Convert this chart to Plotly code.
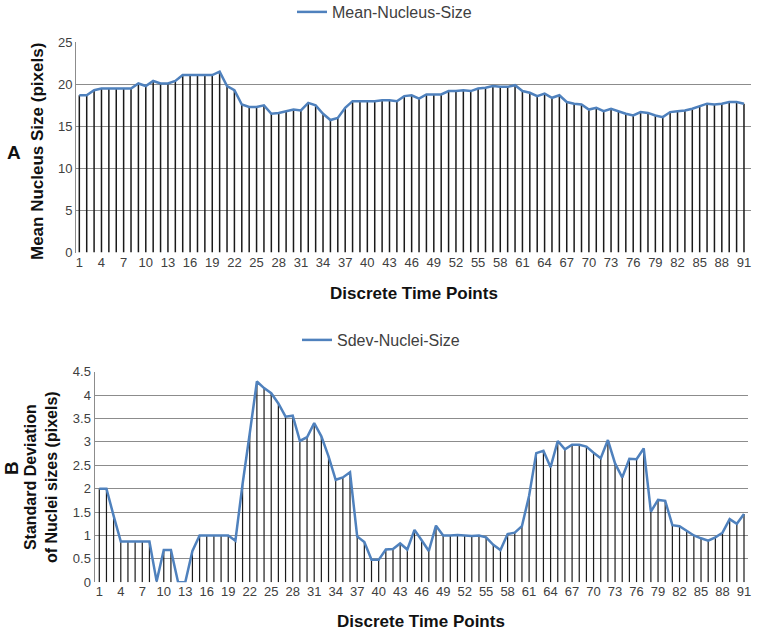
import plotly.graph_objects as go

time_points = list(range(1, 92))

mean_nucleus_size = [
    18.7, 18.7, 19.3, 19.5, 19.5, 19.5, 19.5, 19.5, 20.1, 19.8,
    20.4, 20.1, 20.1, 20.4, 21.1, 21.1, 21.1, 21.1, 21.1, 21.5,
    19.8, 19.3, 17.6, 17.3, 17.3, 17.5, 16.5, 16.6, 16.8, 17.0,
    16.9, 17.8, 17.5, 16.5, 15.75, 16.0, 17.2, 18.0, 18.0, 18.0,
    18.0, 18.1, 18.1, 18.0, 18.6, 18.7, 18.3, 18.8, 18.8, 18.8,
    19.2, 19.2, 19.3, 19.2, 19.5, 19.6, 19.8, 19.7, 19.7, 19.9,
    19.2, 19.0, 18.6, 18.9, 18.4, 18.7, 17.9, 17.7, 17.6, 17.0,
    17.2, 16.8, 17.1, 16.8, 16.5, 16.3, 16.7, 16.6, 16.3, 16.1,
    16.7, 16.8, 16.9, 17.1, 17.4, 17.7, 17.6, 17.7, 17.9, 17.9,
    17.7,
]

sdev_nuclei_size = [
    2.0, 2.0, 1.42, 0.87, 0.87, 0.87, 0.87, 0.87, 0.02, 0.69,
    0.69, 0.0, 0.0, 0.67, 1.0, 1.0, 1.0, 1.0, 1.0, 0.89,
    2.1, 3.18, 4.29, 4.15, 4.04, 3.82, 3.54, 3.56, 3.02, 3.1,
    3.4, 3.12, 2.69, 2.19, 2.24, 2.35, 0.98, 0.86, 0.48, 0.48,
    0.7, 0.71, 0.83, 0.7, 1.12, 0.9, 0.67, 1.21, 1.0, 1.0,
    1.01, 1.0, 0.99, 1.0, 0.96, 0.8, 0.69, 1.03, 1.06, 1.2,
    1.85, 2.76, 2.81, 2.46, 3.02, 2.84, 2.94, 2.94, 2.9, 2.77,
    2.65, 3.04, 2.54, 2.24, 2.64, 2.63, 2.86, 1.51, 1.76, 1.74,
    1.22, 1.2, 1.1, 1.0, 0.94, 0.89, 0.96, 1.06, 1.35, 1.25,
    1.46,
]

x_tick_labels = [str(v) for v in range(1, 92, 3)]
top_y_ticks = [0, 5, 10, 15, 20, 25]
bottom_y_ticks = [0, 0.5, 1, 1.5, 2, 2.5, 3, 3.5, 4, 4.5]

W, H = 758, 631
FONT = "Liberation Sans, Arial, sans-serif"
BLUE = "#4f81bd"
GRID = "#8c8c8c"
TICKC = "#404040"


def drop_lines(xs, ys):
    dx, dy = [], []
    for x, y in zip(xs, ys):
        dx += [x, x, None]
        dy += [0, y, None]
    return dx, dy


fig = go.Figure()

# Top panel
dx, dy = drop_lines(time_points, mean_nucleus_size)
fig.add_trace(go.Scatter(x=dx, y=dy, mode="lines", line=dict(color="#1a1a1a", width=1.5),
                         showlegend=False, hoverinfo="skip", xaxis="x", yaxis="y"))
fig.add_trace(go.Scatter(x=time_points, y=mean_nucleus_size, mode="lines",
                         line=dict(color=BLUE, width=2.5), name="Mean-Nucleus-Size",
                         xaxis="x", yaxis="y", legend="legend"))

# Bottom panel
dx2, dy2 = drop_lines(time_points, sdev_nuclei_size)
fig.add_trace(go.Scatter(x=dx2, y=dy2, mode="lines", line=dict(color="#1a1a1a", width=1.2),
                         showlegend=False, hoverinfo="skip", xaxis="x2", yaxis="y2"))
fig.add_trace(go.Scatter(x=time_points, y=sdev_nuclei_size, mode="lines",
                         line=dict(color=BLUE, width=2.5), name="Sdev-Nuclei-Size",
                         xaxis="x2", yaxis="y2", legend="legend2"))

tickfont = dict(family=FONT, size=13, color=TICKC)

xcommon = dict(tickmode="array", tickvals=list(range(1, 92, 3)), ticktext=x_tick_labels,
               showgrid=False, zeroline=False, showline=False, ticks="", tickfont=tickfont,
               fixedrange=True, automargin=False)
ycommon = dict(showgrid=True, gridcolor=GRID, gridwidth=1, zeroline=False,
               showline=True, linecolor=GRID, linewidth=1, ticks="", tickfont=tickfont,
               tickmode="array", automargin=False)

fig.update_layout(
    width=W, height=H,
    margin=dict(l=0, r=0, t=0, b=0, autoexpand=False),
    paper_bgcolor="white", plot_bgcolor="white",
    font=dict(family=FONT, color="#222"),
    xaxis=dict(domain=[76 / W, 751 / W], range=[0.55, 91.95], anchor="y", **xcommon),
    yaxis=dict(domain=[(H - 252.5) / H, (H - 42.3) / H], range=[0, 25], anchor="x",
               tickvals=top_y_ticks, ticktext=[str(v) for v in top_y_ticks], **ycommon),
    xaxis2=dict(domain=[94.5 / W, 748.3 / W], range=[0.33, 91.6], anchor="y2", **xcommon),
    yaxis2=dict(domain=[(H - 582.3) / H, (H - 371.7) / H], range=[0, 4.5], anchor="x2",
                tickvals=bottom_y_ticks, ticktext=[("%g" % v) for v in bottom_y_ticks], **ycommon),
    legend=dict(x=292 / W, y=1 - 12 / H, xanchor="left", yanchor="middle",
                font=dict(family=FONT, size=16, color="#404040"), bgcolor="rgba(0,0,0,0)"),
    legend2=dict(x=297 / W, y=1 - 340 / H, xanchor="left", yanchor="middle",
                 font=dict(family=FONT, size=16, color="#404040"), bgcolor="rgba(0,0,0,0)"),
    showlegend=True,
)


def add_text(text, x, y, size, angle=0):
    fig.add_annotation(text=text, x=x / W, y=1 - y / H, xref="paper", yref="paper",
                       xanchor="center", yanchor="middle", showarrow=False, textangle=angle,
                       font=dict(family=FONT, size=size, color="#111"))


add_text("<b>A</b>", 14, 152, 19)
add_text("<b>B</b>", 11, 468, 19, -90)
add_text("<b>Mean Nucleus Size (pixels)</b>", 37, 152, 17, -90)
add_text("<b>Standard Deviation<br>of Nuclei sizes (pixels)</b>", 41, 477, 16, -90)
add_text("<b>Discrete Time Points</b>", 414, 293, 17)
add_text("<b>Discrete Time Points</b>", 421, 621, 17)

fig.write_html("out.html", config={"displayModeBar": False},
               post_script="document.body.style.margin='0';document.body.style.overflow='hidden';")
